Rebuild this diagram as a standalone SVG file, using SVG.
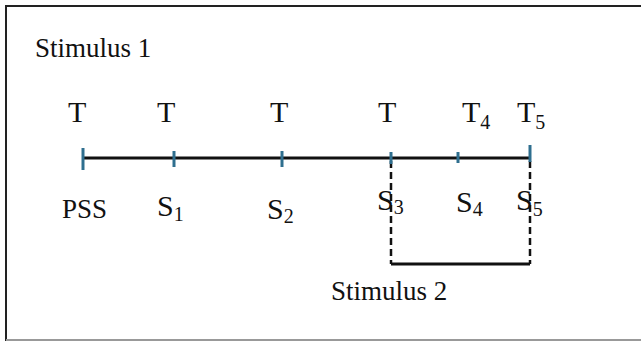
<svg xmlns="http://www.w3.org/2000/svg" width="641" height="341" viewBox="0 0 641 341">
<style>
.t{font-family:"Liberation Serif","Times New Roman",serif;fill:#111}
.lab{font-size:27px}
.tt{font-size:30px}
.ss{font-size:30px}
.sub{font-size:20px}
.tick{stroke:#2f6f8f;stroke-width:3}
.axis{stroke:#111;stroke-width:3}
.dash{stroke:#111;stroke-width:2.5;stroke-dasharray:7 4;fill:none}
</style>
<rect x="0" y="0" width="641" height="341" fill="#fff"/>
<g id="frame">
<line x1="5" y1="6" x2="641" y2="6" stroke="#222" stroke-width="2"/>
<line x1="6" y1="5" x2="6" y2="341" stroke="#222" stroke-width="2"/>
<line x1="6" y1="340" x2="641" y2="340" stroke="#999" stroke-width="2"/>
</g>
<g id="stimulus1"><text class="t lab" x="35" y="57">Stimulus 1</text></g>
<g id="connectors">
<line class="axis" x1="83" y1="158" x2="530" y2="158"/>
<line class="dash" x1="391" y1="161" x2="391" y2="264"/>
<line class="dash" x1="530" y1="161" x2="530" y2="264"/>
<line class="axis" x1="391" y1="264" x2="530" y2="264"/>
</g>
<g id="ticks">
<line class="tick" x1="83" y1="148" x2="83" y2="170"/>
<line class="tick" x1="174" y1="151" x2="174" y2="167"/>
<line class="tick" x1="282" y1="151" x2="282" y2="167"/>
<line class="tick" x1="391" y1="152" x2="391" y2="164"/>
<line class="tick" x1="458" y1="152" x2="458" y2="163"/>
<line class="tick" x1="530" y1="145" x2="530" y2="162"/>
</g>
<g id="tlabels">
<text class="t tt" x="68" y="122">T</text>
<text class="t tt" x="157" y="122">T</text>
<text class="t tt" x="270" y="122">T</text>
<text class="t tt" x="378" y="122">T</text>
<text class="t tt" x="462" y="122">T<tspan class="sub" dy="7">4</tspan></text>
<text class="t tt" x="517" y="122">T<tspan class="sub" dy="7">5</tspan></text>
</g>
<g id="slabels">
<text class="t lab" x="62" y="218">PSS</text>
<text class="t ss" x="157" y="216">S<tspan class="sub" dy="5">1</tspan></text>
<text class="t ss" x="267" y="219">S<tspan class="sub" dy="4">2</tspan></text>
<text class="t ss" x="377" y="210">S<tspan class="sub" dy="4">3</tspan></text>
<text class="t ss" x="456" y="212">S<tspan class="sub" dy="4">4</tspan></text>
<text class="t ss" x="516" y="210">S<tspan class="sub" dy="6">5</tspan></text>
</g>
<g id="stimulus2"><text class="t lab" x="331" y="300">Stimulus 2</text></g>
</svg>
